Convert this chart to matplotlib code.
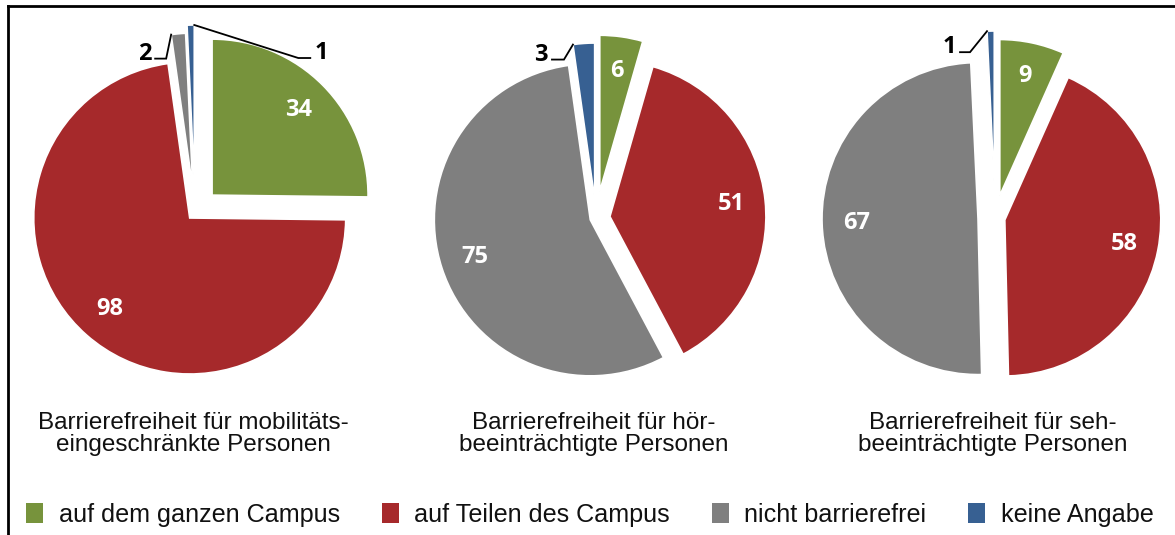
import matplotlib
matplotlib.use('Agg')
import matplotlib.pyplot as plt
from matplotlib.patches import Patch
from matplotlib.lines import Line2D
import numpy as np

plt.rcParams['font.family'] = ['Liberation Sans', 'DejaVu Sans']

# data
categories = ['auf dem ganzen Campus', 'auf Teilen des Campus',
              'nicht barrierefrei', 'keine Angabe']
colors = ['#77933C', '#A6292B', '#7F7F7F', '#376092']

titles = ['Barrierefreiheit für mobilitäts-\neingeschränkte Personen',
          'Barrierefreiheit für hör-\nbeeinträchtigte Personen',
          'Barrierefreiheit für seh-\nbeeinträchtigte Personen']

mobil = [34, 98, 2, 1]
hoer = [6, 51, 75, 3]
seh = [9, 58, 67, 1]
series = [mobil, hoer, seh]

# layout (pixels, origin bottom left)
W, H = 1175, 535
R = 156
centers = [(195, 323), (596, 317), (995, 317)]
explodes = [[24, 8, 23, 31], [27, 14, 6, 19], [23, 10, 17, 31]]
MIN_INSIDE = 5   # smaller slices get a callout instead

# (pie, slice, edge, elbow offset dx/dy, tail length)
callouts = [(0, 2, 'left', (-5, -24), -11),
            (0, 3, 'right', (104, -33), 12),
            (1, 3, 'left', (-9, -15), -12),
            (2, 3, 'left', (-17, -21), -10)]

num_font = dict(family=['Open Sans', 'DejaVu Sans'], fontsize=17, fontweight='bold')

fig = plt.figure(figsize=(W / 100, H / 100), dpi=100)
ax = fig.add_axes([0, 0, 1, 1])


def make_fmt(vals):
    total = sum(vals)
    def fmt(p):
        v = int(round(p * total / 100))
        return str(v) if v >= MIN_INSIDE else ''
    return fmt


wedge_sets = []
for k, vals in enumerate(series):
    wedges, _, autotexts = ax.pie(vals, colors=colors, startangle=90, counterclock=False,
                                  center=centers[k], radius=R, explode=explodes[k],
                                  frame=True, autopct=make_fmt(vals), pctdistance=0.78,
                                  wedgeprops=dict(edgecolor='white', linewidth=1.2))
    for t in autotexts:
        t.set_color('white')
        t.set(**num_font)
    wedge_sets.append(wedges)
    ax.text(centers[k][0] - 2, 101, titles[k], ha='center', va='center',
            fontsize=17.5, linespacing=0.95, color='#111111')

for k, i, edge, (dx, dy), tail in callouts:
    w = wedge_sets[k][i]
    ang = np.deg2rad(w.theta2 if edge == 'left' else w.theta1)
    x0 = w.center[0] + w.r * np.cos(ang)
    y0 = w.center[1] + w.r * np.sin(ang)
    x1, y1 = x0 + dx, y0 + dy
    x2 = x1 + tail
    ax.plot([x0, x1, x2], [y0, y1, y1], color='black', lw=1.3, solid_joinstyle='miter')
    ax.text(x2 + np.sign(tail) * 4, y1 - 1, str(series[k][i]),
            ha='left' if tail > 0 else 'right', va='baseline', color='black', **num_font)

ax.set_xlim(0, W)
ax.set_ylim(0, H)
ax.axis('off')

handles = [Patch(facecolor=c, edgecolor='none') for c in colors]
fig.legend(handles, categories, loc='center left', bbox_to_anchor=(26 / W, 20 / H),
           ncol=4, frameon=False, fontsize=18.1, handlelength=0.68, handleheight=0.85,
           handletextpad=0.62, columnspacing=1.66, borderpad=0, borderaxespad=0,
           labelcolor='#111111')

# frame lines (top and left only)
fig.add_artist(Line2D([8 / W, 1], [1 - 6 / H, 1 - 6 / H], transform=fig.transFigure,
                      color='black', lw=2))
fig.add_artist(Line2D([8 / W, 8 / W], [0, 1 - 6 / H], transform=fig.transFigure,
                      color='black', lw=2))

fig.savefig('out.png', dpi=100)
